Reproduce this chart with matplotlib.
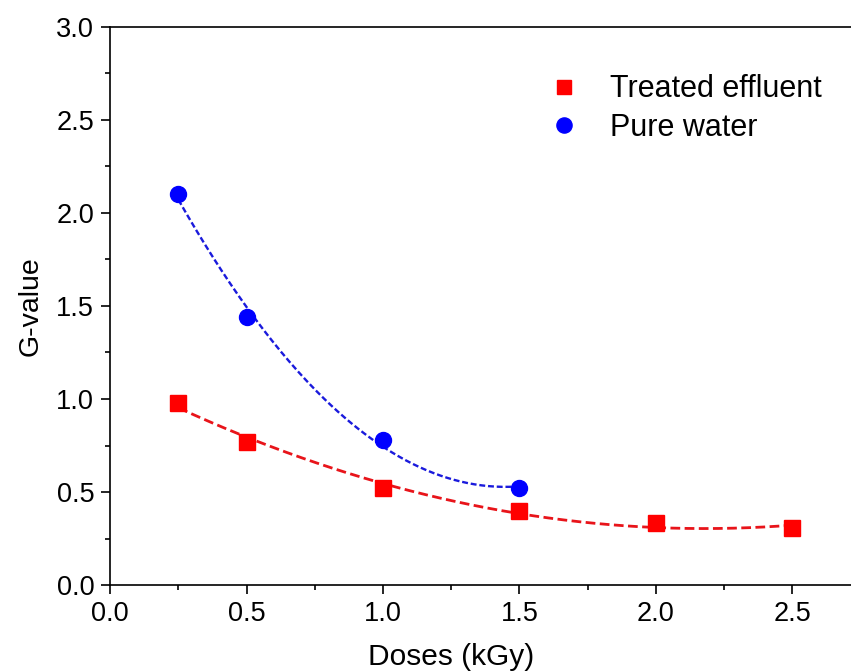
import numpy as np
import matplotlib
matplotlib.use("Agg")
import matplotlib.pyplot as plt
from matplotlib.ticker import MultipleLocator, FormatStrFormatter

plt.rcParams['font.family'] = ['Liberation Sans', 'DejaVu Sans']

# data
dose_effluent = [0.25, 0.5, 1.0, 1.5, 2.0, 2.5]
g_effluent = [0.98, 0.77, 0.52, 0.40, 0.335, 0.305]
dose_water = [0.25, 0.5, 1.0, 1.5]
g_water = [2.10, 1.44, 0.78, 0.52]

fig = plt.figure(figsize=(8.51, 6.71), dpi=100)
# the original picture is cropped at the right, through the plot frame
ax = fig.add_axes([0.1295, 0.128, 0.8705, 0.832])

# fitted trend lines (2nd order polynomial fit of the points)
xe = np.linspace(min(dose_effluent), max(dose_effluent), 200)
pe = np.polyfit(dose_effluent, g_effluent, 2)
ax.plot(xe, np.polyval(pe, xe), color='#e8141a', lw=2.0, dashes=(3.5, 1.6), zorder=2)

xw = np.linspace(min(dose_water), max(dose_water), 200)
pw = np.polyfit(dose_water, g_water, 2)
ax.plot(xw, np.polyval(pw, xw), color='#1a1adc', lw=1.7, dashes=(2.5, 1.2), zorder=2)

ax.plot(dose_effluent, g_effluent, 's', color='#ff0000', ms=11, ls='none',
        label='Treated effluent', zorder=3)
ax.plot(dose_water, g_water, 'o', color='#0000ff', ms=11.5, ls='none',
        label='Pure water', zorder=3)

ax.set_xlim(0, 2.716)
ax.set_ylim(0, 3.0)
ax.xaxis.set_major_locator(MultipleLocator(0.5))
ax.xaxis.set_minor_locator(MultipleLocator(0.25))
ax.yaxis.set_major_locator(MultipleLocator(0.5))
ax.yaxis.set_minor_locator(MultipleLocator(0.25))
ax.xaxis.set_major_formatter(FormatStrFormatter('%.1f'))
ax.yaxis.set_major_formatter(FormatStrFormatter('%.1f'))
ax.tick_params(which='major', direction='out', length=6.5, width=1.2, labelsize=19.5, pad=5)
ax.tick_params(which='minor', direction='out', length=3.5, width=1.2)
ax.tick_params(top=False, right=False)
ax.spines['right'].set_visible(False)
for s in ax.spines.values():
    s.set_linewidth(1.2)

ax.set_xlabel('Doses (kGy)', fontsize=21.5)
ax.set_ylabel('G-value', fontsize=20.5)
ax.xaxis.set_label_coords(0.4604, -0.103)
ax.yaxis.set_label_coords(-0.09, 0.5)

ax.legend(loc='upper left', bbox_to_anchor=(0.592, 0.915), frameon=False,
          fontsize=22, handlelength=1.0, handletextpad=1.0, labelspacing=0.28,
          markerscale=0.95, borderaxespad=0, borderpad=0)

fig.savefig('out.png', dpi=100)
